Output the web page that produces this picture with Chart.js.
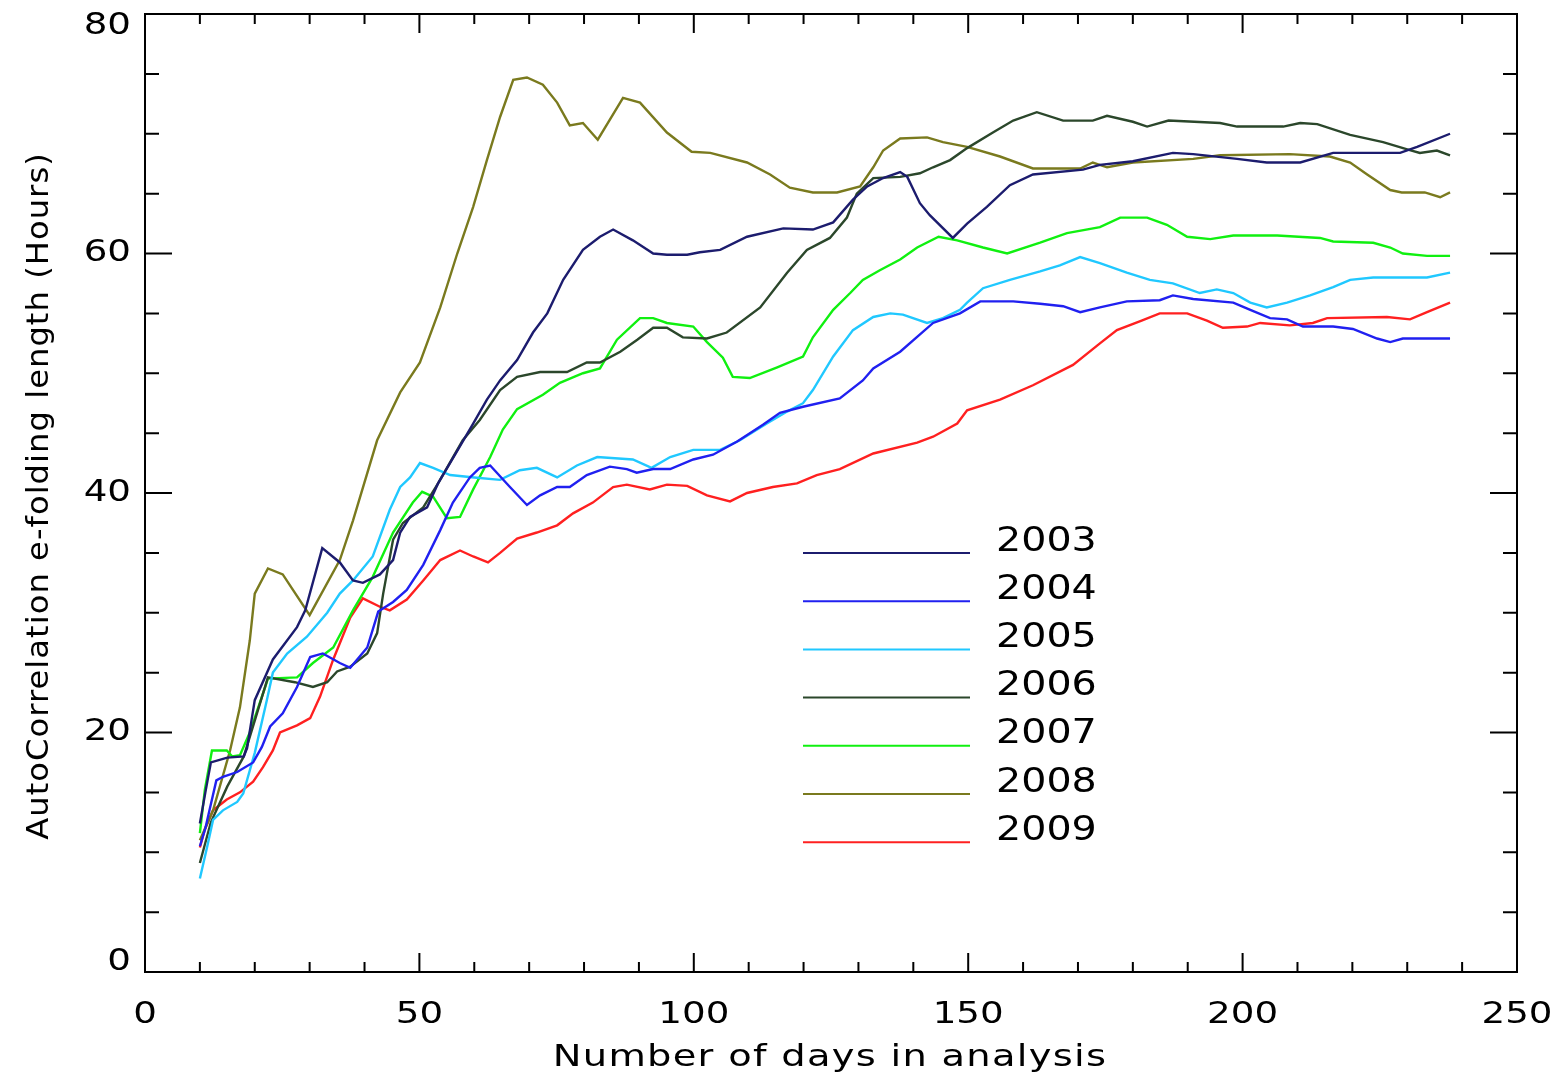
<!DOCTYPE html>
<html>
<head>
<meta charset="utf-8">
<script src="https://cdn.jsdelivr.net/npm/chart.js@4.4.1/dist/chart.umd.min.js"></script>
<style>
html, body { margin: 0; padding: 0; background: #fff; }
</style>
</head>
<body>
<canvas id="myChart" width="1555" height="1079"></canvas>
<script>
// values, one pair of arrays per year
const days2003 = [10, 11, 12, 15, 18, 18.6, 20, 23.3, 27.7, 29.2, 32.3, 35.5, 37.9, 39.7, 42.8, 45.2, 46.5, 48.3, 51.4, 53.4, 57, 59.8, 62.3, 64.7, 67.8, 70.7, 73.3, 76.2, 79.8, 82.9, 85.3, 88.9, 92.6, 95.1, 98.8, 101.1, 104.8, 109.7, 116.3, 121.7, 125.4, 129, 131.6, 134.5, 137.6, 138.9, 141.2, 143, 147.2, 149.8, 153.4, 157.6, 161.8, 170.9, 174, 180, 187.3, 191, 199, 204.4, 210.5, 216.5, 228.7, 231.8, 237.8];
const hours2003 = [12.4, 15, 17.5, 17.9, 18, 18.7, 22.7, 26.1, 28.8, 30.2, 35.4, 34.2, 32.7, 32.5, 33.2, 34.4, 36.7, 38.0, 38.8, 40.8, 43.6, 45.8, 47.8, 49.4, 51.1, 53.4, 55.0, 57.8, 60.3, 61.4, 62.0, 61.1, 60.0, 59.9, 59.9, 60.1, 60.3, 61.4, 62.1, 62.0, 62.6, 64.5, 65.6, 66.3, 66.8, 66.4, 64.2, 63.2, 61.3, 62.5, 63.9, 65.7, 66.6, 67.0, 67.4, 67.7, 68.4, 68.3, 67.9, 67.6, 67.6, 68.4, 68.4, 68.9, 70.0];

const days2004 = [10, 11, 12, 13, 14.2, 16.8, 19.7, 21.3, 22.8, 25.1, 27.7, 30.1, 32.4, 35.5, 37.4, 40.5, 42.5, 45.2, 47.7, 50.7, 53.8, 56.1, 59.2, 61, 62.9, 66.5, 69.6, 72, 75.1, 77.4, 80.5, 84.7, 87.8, 89.6, 92.6, 95.7, 99.9, 103.5, 107.9, 112.6, 115.7, 119.9, 126.6, 130.8, 132.7, 137.6, 143.6, 148.5, 152.2, 158.2, 163.1, 167.3, 170.4, 174, 178.9, 184.9, 187.3, 191, 198.3, 201.4, 205, 208.1, 211, 216.5, 220.1, 224.5, 226.9, 229.2, 237.8];
const hours2004 = [10.5, 12, 14, 16, 16.3, 16.7, 17.5, 18.8, 20.5, 21.6, 23.8, 26.3, 26.6, 25.8, 25.4, 27.1, 30.1, 30.9, 31.9, 34.0, 36.9, 39.2, 41.3, 42.1, 42.3, 40.5, 39.0, 39.8, 40.5, 40.5, 41.5, 42.2, 42.0, 41.7, 42.0, 42.0, 42.8, 43.2, 44.3, 45.7, 46.7, 47.2, 47.9, 49.4, 50.4, 51.8, 54.2, 55.0, 56.0, 56.0, 55.8, 55.6, 55.1, 55.5, 56.0, 56.1, 56.5, 56.2, 55.9, 55.3, 54.6, 54.5, 53.9, 53.9, 53.7, 52.9, 52.6, 52.9, 52.9];

const days2005 = [10, 11.3, 12.4, 14.2, 16.8, 17.9, 20, 22.2, 23.3, 25.9, 29.5, 33.2, 35.5, 37.9, 41.5, 44.6, 46.5, 48.3, 50.1, 52.5, 55.6, 60, 64.7, 68.3, 71.4, 75.1, 78.7, 82.4, 88.9, 92.3, 95.7, 99.9, 104.8, 108.4, 113.3, 117, 119.9, 121.7, 125.4, 129, 132.7, 135.8, 138.1, 142.5, 145.4, 148.5, 149.8, 152.7, 157.6, 163.1, 166.7, 170.4, 174, 178.9, 183.1, 187.3, 192.2, 195.3, 198.3, 201.4, 204.4, 208.1, 212.3, 216.5, 219.6, 223.8, 233.6, 237.8];
const hours2005 = [7.8, 10.4, 12.7, 13.5, 14.2, 14.9, 18.3, 22.7, 25.0, 26.6, 28.0, 30.0, 31.6, 32.7, 34.7, 38.6, 40.5, 41.3, 42.5, 42.1, 41.5, 41.3, 41.1, 41.9, 42.1, 41.3, 42.3, 43.0, 42.8, 42.1, 43.0, 43.6, 43.6, 44.4, 45.8, 46.8, 47.5, 48.6, 51.4, 53.6, 54.7, 55.0, 54.9, 54.2, 54.6, 55.3, 55.9, 57.1, 57.8, 58.5, 59.0, 59.7, 59.2, 58.4, 57.8, 57.5, 56.7, 57.0, 56.7, 55.9, 55.5, 55.9, 56.5, 57.2, 57.8, 58.0, 58.0, 58.4];

const days2006 = [10, 12, 15, 18, 20, 22.4, 27.3, 30.6, 33.2, 35, 37.4, 40.5, 42.3, 43.4, 45.2, 47, 50.7, 53.4, 57.9, 61, 64.7, 67.8, 72, 76.9, 80.5, 82.9, 86.6, 89.7, 92.6, 95.1, 98, 102.4, 106, 112.1, 117, 120.6, 124.8, 127.9, 129.7, 132.7, 137.6, 141.2, 143.6, 146.7, 149.8, 154.5, 158.2, 162.5, 167.3, 172.7, 175.3, 180, 182.6, 186.5, 195.9, 199, 207.4, 210.5, 213.6, 219.6, 225.6, 230, 232.3, 235.4, 237.8];
const hours2006 = [9.1, 12.5, 15.5, 18, 21, 24.6, 24.2, 23.8, 24.2, 25.1, 25.5, 26.6, 28.3, 31.6, 36.1, 37.5, 38.8, 40.8, 44.4, 46.1, 48.6, 49.7, 50.1, 50.1, 50.9, 50.9, 51.8, 52.8, 53.8, 53.8, 53.0, 52.9, 53.4, 55.5, 58.4, 60.3, 61.3, 63.0, 65.0, 66.3, 66.4, 66.7, 67.2, 67.8, 68.8, 70.1, 71.1, 71.8, 71.1, 71.1, 71.5, 71.0, 70.6, 71.1, 70.9, 70.6, 70.6, 70.9, 70.8, 69.9, 69.3, 68.7, 68.4, 68.6, 68.2];

const days2007 = [10, 10.9, 12.2, 14.9, 15.9, 17.3, 19.1, 21.9, 22.4, 27.7, 30.6, 34.3, 37.9, 41.5, 45.2, 48.8, 50.5, 52.5, 55, 57.4, 59.8, 62.9, 65.2, 67.8, 72.5, 75.6, 79.8, 82.9, 86, 90.2, 92.6, 95.1, 99.9, 102.4, 105.3, 107.1, 110.2, 115.2, 119.9, 121.7, 125.4, 128.5, 130.8, 133.9, 137.6, 140.7, 144.6, 148, 152.7, 157.1, 163.1, 168, 174, 177.7, 182.6, 186.2, 189.9, 194.1, 198.3, 206.3, 214.1, 216.5, 223.8, 226.9, 229.2, 233.6, 237.8];
const hours2007 = [11.6, 15.2, 18.5, 18.5, 18.0, 18.1, 20.0, 23.8, 24.5, 24.6, 25.8, 27.1, 30.2, 33.0, 36.7, 39.2, 40.1, 39.7, 37.9, 38.0, 40.3, 43.0, 45.3, 47.0, 48.2, 49.2, 50.0, 50.4, 52.8, 54.6, 54.6, 54.2, 53.9, 52.6, 51.3, 49.7, 49.6, 50.5, 51.4, 53.0, 55.3, 56.7, 57.8, 58.6, 59.5, 60.5, 61.4, 61.1, 60.5, 60.0, 60.9, 61.7, 62.2, 63.0, 63.0, 62.4, 61.4, 61.2, 61.5, 61.5, 61.3, 61.0, 60.9, 60.5, 60.0, 59.8, 59.8];

const days2008 = [10, 12.4, 15.5, 17.3, 19.1, 20, 22.4, 25.1, 30, 35.5, 37.9, 42.3, 46.5, 50.1, 53.8, 56.9, 59.8, 62.3, 64.7, 67.1, 69.6, 72.5, 75.1, 77.4, 79.8, 82.5, 87.1, 90.2, 95.1, 99.6, 103, 109.7, 113.9, 117.5, 121.7, 126.1, 130.3, 132.7, 134.5, 137.6, 142.5, 145.4, 149.8, 155.8, 161.8, 170.4, 172.7, 175.3, 180, 191, 195.9, 208.6, 215.9, 219.6, 222.7, 226.9, 229, 233.2, 236, 237.8];
const hours2008 = [11, 13.5, 18.5, 22.1, 27.7, 31.6, 33.7, 33.2, 29.8, 34.4, 37.7, 44.4, 48.4, 50.9, 55.5, 60.0, 63.9, 67.8, 71.4, 74.5, 74.7, 74.1, 72.6, 70.7, 70.9, 69.5, 73.0, 72.6, 70.1, 68.5, 68.4, 67.6, 66.6, 65.5, 65.1, 65.1, 65.6, 67.2, 68.6, 69.6, 69.7, 69.3, 68.9, 68.1, 67.1, 67.1, 67.6, 67.2, 67.6, 67.9, 68.2, 68.3, 68.1, 67.6, 66.6, 65.3, 65.1, 65.1, 64.7, 65.1];

const days2009 = [10, 10.9, 12.4, 14.9, 17.3, 19.7, 21.5, 23.3, 24.6, 27.7, 30.1, 31.9, 34.3, 37.4, 39.7, 42.8, 44.6, 47.7, 50.7, 53.8, 57.4, 59.8, 62.5, 64.7, 67.8, 71.4, 75.1, 78, 81.6, 85.3, 87.8, 92, 95.1, 98.8, 102.4, 106.6, 109.7, 114.4, 118.8, 122.4, 126.6, 132.7, 140.7, 143.6, 148, 149.8, 155.8, 161.8, 169.1, 174, 177.1, 181.6, 184.9, 189.9, 193.5, 196.4, 200.8, 203.2, 208.6, 212.8, 215.4, 226.3, 230.5, 233.6, 237.8];
const hours2009 = [10.4, 11.9, 13.5, 14.4, 15.0, 15.9, 17.1, 18.5, 20.0, 20.6, 21.2, 23.0, 26.1, 29.6, 31.2, 30.5, 30.2, 31.1, 32.7, 34.4, 35.2, 34.7, 34.2, 35.0, 36.2, 36.7, 37.3, 38.3, 39.2, 40.5, 40.7, 40.3, 40.7, 40.6, 39.8, 39.3, 40.0, 40.5, 40.8, 41.5, 42.0, 43.3, 44.2, 44.7, 45.8, 46.9, 47.8, 49.0, 50.7, 52.5, 53.6, 54.4, 55.0, 55.0, 54.4, 53.8, 53.9, 54.2, 54.0, 54.2, 54.6, 54.7, 54.5, 55.1, 55.9];

const years = ['2003', '2004', '2005', '2006', '2007', '2008', '2009'];
const colors = ['#1c1c6e', '#2020f0', '#20c8ff', '#2b472b', '#10f010', '#7a7a1e', '#ff2020'];
const allDays = [days2003, days2004, days2005, days2006, days2007, days2008, days2009];
const allHours = [hours2003, hours2004, hours2005, hours2006, hours2007, hours2008, hours2009];

const xTicks = [0, 50, 100, 150, 200, 250];
const yTicks = [0, 20, 40, 60, 80];
const xTitle = 'Number of days in analysis';
const yTitle = 'AutoCorrelation e-folding length (Hours)';

const fontFamily = '"DejaVu Sans", sans-serif';

// the original plotting font is wide, so stretch text sideways
function wideText(ctx, text, x, y, sx, angle) {
    ctx.save();
    ctx.translate(x, y);
    if (angle) ctx.rotate(angle);
    ctx.scale(sx, 1);
    ctx.fillText(text, 0, 0);
    ctx.restore();
}

// box round the plot with inward major/minor ticks on all four sides
const frameTicks = {
    id: 'frameTicks',
    afterDatasetsDraw(chart) {
        const {ctx, chartArea: a, scales: {x, y}} = chart;
        ctx.save();
        ctx.strokeStyle = '#000';
        ctx.lineWidth = 2;
        ctx.strokeRect(a.left, a.top, a.right - a.left, a.bottom - a.top);
        ctx.beginPath();
        for (let v = 0; v <= 250; v += 10) {
            const px = x.getPixelForValue(v);
            const len = v % 50 === 0 ? 19 : 10;
            ctx.moveTo(px, a.bottom); ctx.lineTo(px, a.bottom - len);
            ctx.moveTo(px, a.top); ctx.lineTo(px, a.top + len);
        }
        for (let v = 0; v <= 80; v += 5) {
            const py = y.getPixelForValue(v);
            const len = v % 20 === 0 ? 27 : 14;
            ctx.moveTo(a.left, py); ctx.lineTo(a.left + len, py);
            ctx.moveTo(a.right, py); ctx.lineTo(a.right - len, py);
        }
        ctx.stroke();
        ctx.restore();
    }
};

// tick labels and axis titles
const axisText = {
    id: 'axisText',
    afterDraw(chart) {
        const {ctx, chartArea: a, scales: {x, y}} = chart;
        ctx.save();
        ctx.fillStyle = '#000';
        ctx.textBaseline = 'middle';

        ctx.font = '30px ' + fontFamily;
        ctx.textAlign = 'center';
        xTicks.forEach(v => wideText(ctx, String(v), x.getPixelForValue(v), 1015, 1.24));
        ctx.textAlign = 'right';
        yTicks.forEach(v => {
            const py = Math.min(Math.max(y.getPixelForValue(v), a.top + 12), a.bottom - 10);
            wideText(ctx, String(v), 131, py, 1.24);
        });

        ctx.textAlign = 'center';
        ctx.letterSpacing = '1px';
        wideText(ctx, xTitle, 830, 1058, 1.28);
        wideText(ctx, yTitle, 40, 496, 1.07, -Math.PI / 2);
        ctx.restore();
    }
};

// legend drawn inside the plot
const insideLegend = {
    id: 'insideLegend',
    afterDraw(chart) {
        const ctx = chart.ctx;
        ctx.save();
        ctx.font = '33px ' + fontFamily;
        ctx.textBaseline = 'middle';
        ctx.textAlign = 'left';
        ctx.fillStyle = '#000';
        chart.data.datasets.forEach((ds, i) => {
            const ly = 553 + i * 48.2;
            ctx.strokeStyle = ds.borderColor;
            ctx.lineWidth = 2;
            ctx.beginPath();
            ctx.moveTo(803, ly);
            ctx.lineTo(970, ly);
            ctx.stroke();
            wideText(ctx, ds.label, 996, ly - 11, 1.2);
        });
        ctx.restore();
    }
};

const ctx = document.getElementById('myChart');

const myChart = new Chart(ctx, {
    type: 'line',
    data: {
        datasets: years.map((yr, i) => ({
            label: yr,
            data: allDays[i].map((d, j) => ({x: d, y: allHours[i][j]})),
            borderColor: colors[i],
            borderWidth: 2.4,
            pointRadius: 0,
            tension: 0,
            fill: false
        }))
    },
    options: {
        responsive: false,
        animation: false,
        layout: {
            padding: {top: 14, right: 38, bottom: 0, left: 0}
        },
        plugins: {
            legend: { display: false },
            tooltip: { enabled: false }
        },
        scales: {
            x: {
                type: 'linear',
                min: 0,
                max: 250,
                afterFit: (scale) => {
                    scale.height = 107;
                    scale.paddingLeft = 0;
                    scale.paddingRight = 0;
                },
                grid: { display: false, drawTicks: false },
                border: { display: false },
                ticks: { display: false, stepSize: 50 }
            },
            y: {
                type: 'linear',
                min: 0,
                max: 80,
                afterFit: (scale) => {
                    scale.width = 145;
                    scale.paddingTop = 0;
                    scale.paddingBottom = 0;
                },
                grid: { display: false, drawTicks: false },
                border: { display: false },
                ticks: { display: false, stepSize: 20 }
            }
        }
    },
    plugins: [frameTicks, axisText, insideLegend]
});
</script>
</body>
</html>
